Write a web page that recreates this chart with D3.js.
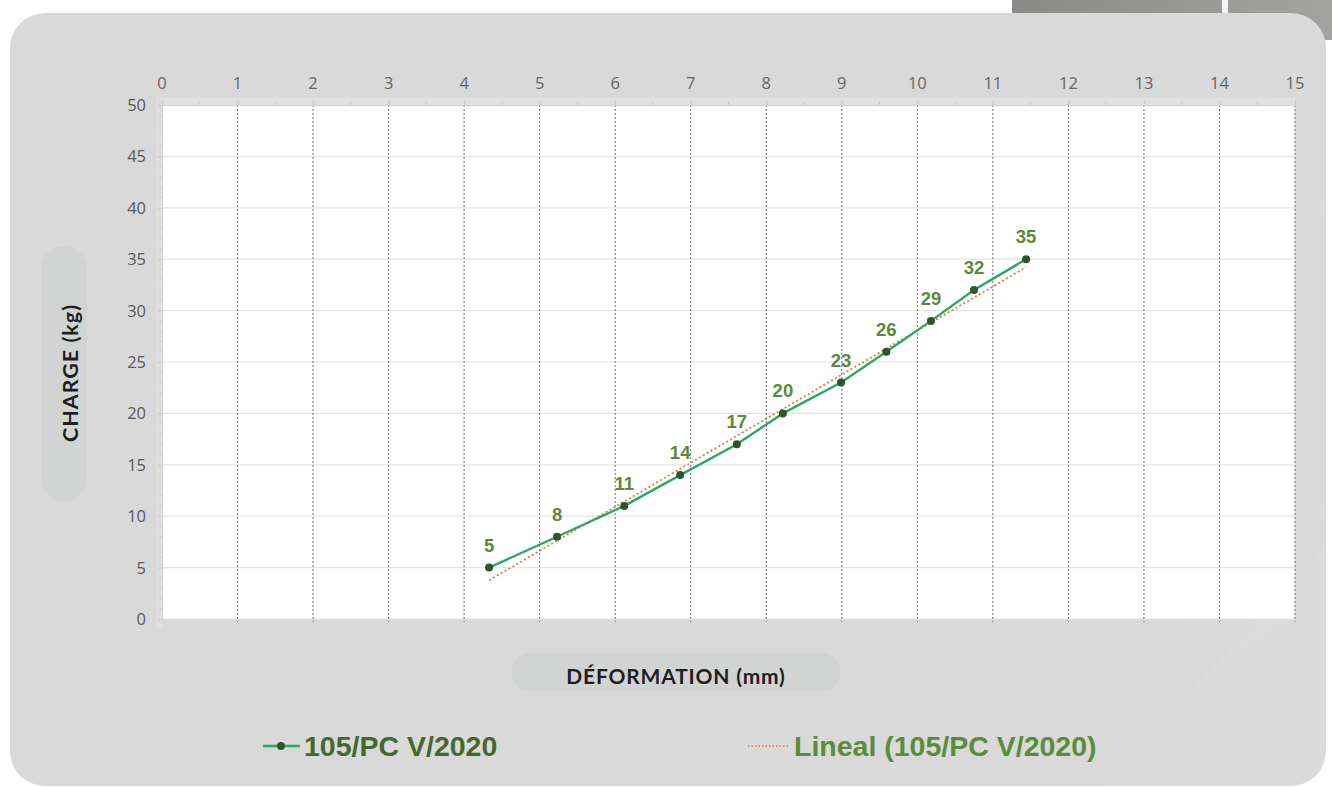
<!DOCTYPE html>
<html><head><meta charset="utf-8">
<script src="https://cdn.jsdelivr.net/npm/d3@7/dist/d3.min.js"></script>
<style>body{margin:0;background:#fff;}svg{display:block;}</style>
</head><body>
<script>
// Data
const deformation = [4.33, 5.23, 6.12, 6.86, 7.61, 8.22, 8.99, 9.59, 10.18, 10.75, 11.44];
const charge = [5, 8, 11, 14, 17, 20, 23, 26, 29, 32, 35];
const xTicks = [0,1,2,3,4,5,6,7,8,9,10,11,12,13,14,15];
const yTicks = [0,5,10,15,20,25,30,35,40,45,50];
const seriesName = "105/PC V/2020";
const trendName = "Lineal (105/PC V/2020)";

const W = 1332, H = 787;
const svg = d3.select("body").append("svg").attr("width", W).attr("height", H);
const defs = svg.append("defs");
const g1 = defs.append("linearGradient").attr("id","dark").attr("x1","0").attr("x2","1");
g1.append("stop").attr("offset","0").attr("stop-color","#8a8a88");
g1.append("stop").attr("offset","1").attr("stop-color","#a3a3a1");

// background pieces
svg.append("rect").attr("x",1012).attr("y",0).attr("width",320).attr("height",40).attr("fill","url(#dark)");
svg.append("rect").attr("x",1222).attr("y",0).attr("width",6).attr("height",40).attr("fill","#f4f4f4");
svg.append("rect").attr("x",10).attr("y",13).attr("width",1316).attr("height",773).attr("rx",35).attr("fill","#d9d9d9");
// faint watermark shapes
svg.append("path").attr("d","M1100,787 L1332,540 L1332,787 Z").attr("fill","#ffffff").attr("opacity",0.07);
svg.append("ellipse").attr("cx",1230).attr("cy",360).attr("rx",110).attr("ry",290).attr("fill","#ffffff").attr("opacity",0.05);

const x = d3.scaleLinear().domain([0,15]).range([162,1295]);
const y = d3.scaleLinear().domain([0,50]).range([619,105]);

// axis strips
svg.append("rect").attr("x",x(0)-6).attr("y",y(50)-8).attr("width",x(15)-x(0)+6).attr("height",8).attr("fill","#e2e2e2").attr("opacity",0.6);
svg.append("rect").attr("x",x(0)-6).attr("y",y(50)).attr("width",6).attr("height",y(0)-y(50)+8).attr("fill","#e2e2e2").attr("opacity",0.6);

// plot area
svg.append("rect").attr("x",x(0)).attr("y",y(50)).attr("width",x(15)-x(0)).attr("height",y(0)-y(50)).attr("fill","#ffffff");

// horizontal grid
svg.append("g").selectAll("line").data(yTicks).join("line")
  .attr("x1",x(0)).attr("x2",x(15)).attr("y1",d=>y(d)).attr("y2",d=>y(d))
  .attr("stroke","#e4e4e4").attr("stroke-width",1.2);
// vertical dashed grid
svg.append("g").selectAll("line").data(xTicks.slice(1)).join("line")
  .attr("x1",d=>x(d)).attr("x2",d=>x(d)).attr("y1",y(50)).attr("y2",y(0)+3)
  .attr("stroke","#6a6a6a").attr("stroke-width",1).attr("stroke-dasharray","2,2");

// top axis (ticks via d3 axis; labels drawn with explicit font)
const xAxis = d3.axisTop(x).tickValues(xTicks).tickSize(4).tickFormat("");
const gx = svg.append("g").attr("transform",`translate(0,${y(50)})`).call(xAxis);
gx.select(".domain").attr("stroke","#d0d0d0");
gx.selectAll(".tick line").attr("stroke","#c8c8c8");
svg.append("g").selectAll("text").data(xTicks).join("text")
  .attr("x",d=>x(d)).attr("y",y(50)-16).attr("text-anchor","middle")
  .attr("font-family","'Open Sans', sans-serif").attr("font-size","16.5px").attr("fill","#666").text(d=>d);
svg.append("g").selectAll("line").data(d3.range(0.5,15,1)).join("line")
  .attr("x1",d=>x(d)).attr("x2",d=>x(d)).attr("y1",y(50)-3).attr("y2",y(50))
  .attr("stroke","#c8c8c8");

// left axis
const yAxis = d3.axisLeft(y).tickValues(yTicks).tickSize(4).tickFormat("");
const gy = svg.append("g").attr("transform",`translate(${x(0)},0)`).call(yAxis);
gy.select(".domain").attr("stroke","#d0d0d0");
gy.selectAll(".tick line").attr("stroke","#c8c8c8");
svg.append("g").selectAll("text").data(yTicks).join("text")
  .attr("x",x(0)-16).attr("y",d=>y(d)+6).attr("text-anchor","end")
  .attr("font-family","'Open Sans', sans-serif").attr("font-size","16.5px").attr("fill","#595959").text(d=>d);
svg.append("g").selectAll("line").data(d3.range(1,50,1).filter(d=>d%5)).join("line")
  .attr("x1",x(0)-3).attr("x2",x(0)).attr("y1",d=>y(d)).attr("y2",d=>y(d))
  .attr("stroke","#cfcfcf");

// trendline (least squares)
const n = deformation.length;
const mx = d3.mean(deformation), my = d3.mean(charge);
let sxy=0, sxx=0;
for(let i=0;i<n;i++){sxy+=(deformation[i]-mx)*(charge[i]-my); sxx+=(deformation[i]-mx)**2;}
const slope = sxy/sxx, icpt = my - slope*mx;
const x0 = d3.min(deformation), x1 = d3.max(deformation);
svg.append("line").attr("x1",x(x0)).attr("y1",y(icpt+slope*x0)).attr("x2",x(x1)).attr("y2",y(icpt+slope*x1))
  .attr("stroke","#e27a45").attr("stroke-width",1.8).attr("stroke-dasharray","2,2.5");

// series line
const pts = deformation.map((d,i)=>[d,charge[i]]);
svg.append("path").datum(pts).attr("d",d3.line().x(d=>x(d[0])).y(d=>y(d[1])))
  .attr("fill","none").attr("stroke","#2aa864").attr("stroke-width",2.4);
svg.append("g").selectAll("circle").data(pts).join("circle")
  .attr("cx",d=>x(d[0])).attr("cy",d=>y(d[1])).attr("r",4).attr("fill","#2f5530");
svg.append("g").selectAll("text").data(pts).join("text")
  .attr("x",d=>x(d[0])).attr("y",d=>y(d[1])-16).attr("text-anchor","middle")
  .attr("font-family","Liberation Sans, Arial, sans-serif").attr("font-weight","bold").attr("font-size",18.5)
  .attr("fill","#5b8a3b").text(d=>d[1]);

// axis titles
svg.append("rect").attr("x",41).attr("y",246).attr("width",46).attr("height",256).attr("rx",23).attr("fill","#d2d4d4");
svg.append("text").attr("transform","translate(78,373) rotate(-90)").attr("text-anchor","middle")
  .attr("font-family","Lato, sans-serif").attr("font-weight","bold").attr("font-size",21.5).attr("fill","#1f1f1f")
  .attr("letter-spacing",1).text("CHARGE (kg)");
svg.append("rect").attr("x",511).attr("y",653).attr("width",330).attr("height",38).attr("rx",19).attr("fill","#d2d4d4");
svg.append("text").attr("x",676).attr("y",684).attr("text-anchor","middle")
  .attr("font-family","Lato, sans-serif").attr("font-weight","bold").attr("font-size",21).attr("fill","#1f1f1f")
  .attr("letter-spacing",0.8).text("DÉFORMATION (mm)");

// legend
svg.append("line").attr("x1",263).attr("x2",300).attr("y1",746).attr("y2",746).attr("stroke","#2aa864").attr("stroke-width",2.6);
svg.append("circle").attr("cx",281).attr("cy",746).attr("r",4).attr("fill","#2f5530");
svg.append("text").attr("x",304).attr("y",756).attr("font-family","Liberation Sans, Arial, sans-serif").attr("font-weight","bold")
  .attr("font-size",28.5).attr("fill","#46682d").text(seriesName);
svg.append("line").attr("x1",748).attr("x2",789).attr("y1",746).attr("y2",746).attr("stroke","#e27a45").attr("stroke-width",1.6).attr("stroke-dasharray","1.5,2");
svg.append("text").attr("x",794).attr("y",756).attr("font-family","Liberation Sans, Arial, sans-serif").attr("font-weight","bold")
  .attr("font-size",28.5).attr("fill","#5a8c3a").text(trendName);
</script>
</body></html>
